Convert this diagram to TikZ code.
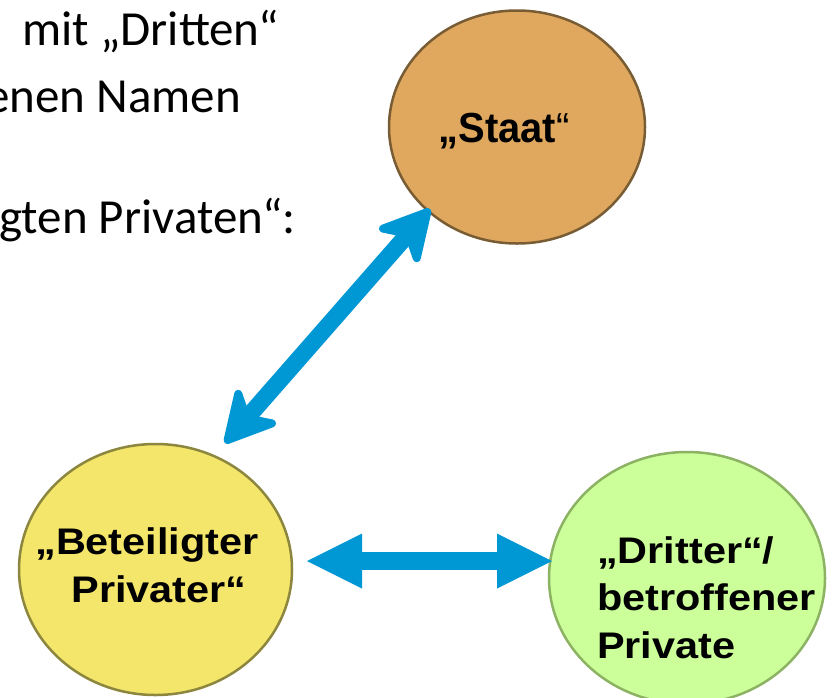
\documentclass[tikz,border=0pt]{standalone}
\usepackage{fontspec}
\setmainfont{Liberation Sans}
\newfontfamily\lblfont[FakeStretch=1.12]{Liberation Sans}
\newfontfamily\staatfont[FakeStretch=0.95]{Liberation Sans}
\newfontfamily\bodyfont{Carlito}
\usetikzlibrary{shapes.geometric,arrows.meta}
\definecolor{staatfill}{RGB}{224,168,94}
\definecolor{staatline}{RGB}{120,92,52}
\definecolor{betfill}{RGB}{244,230,106}
\definecolor{betline}{RGB}{140,134,62}
\definecolor{drifill}{RGB}{204,255,153}
\definecolor{driline}{RGB}{140,178,100}
\definecolor{arrowblue}{RGB}{0,152,212}
\tikzset{
  circ/.style={ellipse, line width=2.5pt, inner sep=0pt},
  bodytext/.style={inner sep=0pt, font=\bodyfont\fontsize{49}{59}\selectfont},
  lbl/.style={inner sep=0pt, font=\lblfont\bfseries\fontsize{37}{47.5}\selectfont},
  diagarrow/.style={draw=arrowblue, line width=17pt,
    arrows={Stealth[round, length=60pt, width=64pt, inset=18pt, line width=8pt]-Stealth[round, length=60pt, width=64pt, inset=18pt, line width=8pt]}},
  horizarrow/.style={draw=arrowblue, line width=18pt,
    arrows={Triangle[length=55pt, width=55pt, line width=0pt]-Triangle[length=55pt, width=55pt, line width=0pt]}}
}
\begin{document}
\begin{tikzpicture}[x=1pt,y=-1pt]
\useasboundingbox (0,0) rectangle (832,697);
\fill[white] (0,0) rectangle (832,697);
\clip (0,0) rectangle (832,697);
% text at top left
\node[bodytext, anchor=base west] (t1) at (22,45) {mit „Dritten“};
\node[bodytext, anchor=base east] (t2) at (241,112) {enen Namen};
\node[bodytext, anchor=base east] (t3) at (296,233) {gten Privaten“:};
% circles
\node[circ, draw=staatline, fill=staatfill, minimum width=256pt, minimum height=233pt] (staat) at (517,127) {};
\node[circ, draw=betline, fill=betfill, minimum width=273pt, minimum height=251pt] (bet) at (155.5,569.5) {};
\node[circ, draw=driline, fill=drifill, minimum width=276pt, minimum height=252pt] (dri) at (687,578) {};
% labels
\node[inner sep=0pt, anchor=base, font=\staatfont\bfseries\fontsize{42}{47}\selectfont] (staatlbl) at (504,142) {„Staat{\mdseries“}};
\node[lbl, anchor=base, align=center] (betlbl) at (147,602) {„Beteiligter\\\hspace*{24pt}Privater“};
\node[lbl, anchor=base west, align=left] (drilbl) at (597,658) {„Dritter“/\\betroffener\\Private};
% connectors
\coordinate (dA) at (225,443);
\coordinate (dB) at (430,209);
\draw[diagarrow] (dA) -- (dB);
\coordinate (hA) at (307,561);
\coordinate (hB) at (552,561);
\draw[horizarrow] (hA) -- (hB);
\end{tikzpicture}
\end{document}
